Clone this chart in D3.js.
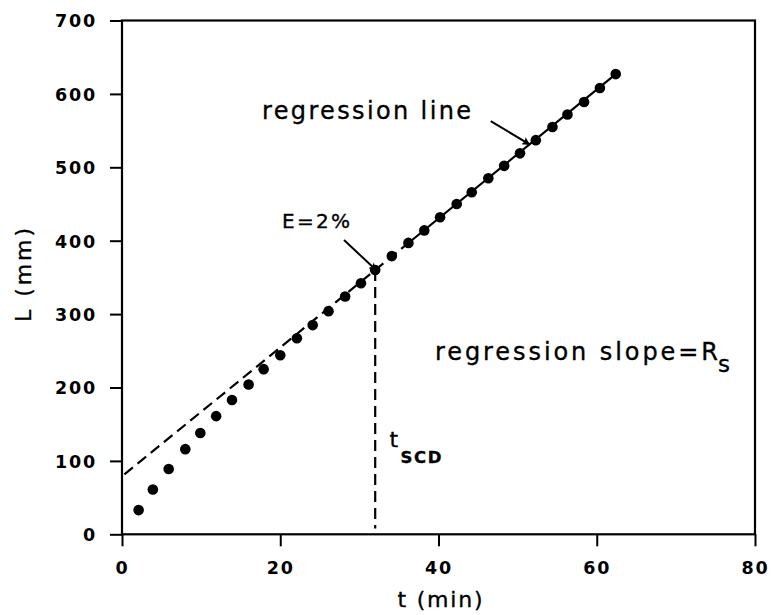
<!DOCTYPE html>
<html>
<head>
<meta charset="utf-8">
<script src="https://cdn.jsdelivr.net/npm/d3@7"></script>
<style>
  html, body { margin: 0; padding: 0; background: #fff; }
  svg { display: block; }
  .tick text { font-family: "DejaVu Sans", sans-serif; font-weight: bold; font-size: 17.5px; letter-spacing: 1.8px; fill: #000; }
  .lbl { font-family: "DejaVu Sans", sans-serif; fill: #000; stroke: #000; stroke-width: 0.35px; }
</style>
</head>
<body>
<svg id="chart" width="772" height="615"></svg>
<script>
// ---- data ----
const tValues = [2.1, 3.9, 5.9, 8.0, 9.9, 11.9, 13.9, 16.0, 17.9, 20.0, 22.1, 24.1, 26.1, 28.2, 30.2,
                 32.0, 34.1, 36.2, 38.2, 40.2, 42.3, 44.2, 46.3, 48.3, 50.3, 52.3, 54.4, 56.3, 58.4, 60.4, 62.4];
const lValues = [33, 61, 89, 116, 138, 161, 183, 204, 225, 244, 267, 285, 304, 324, 342,
                 360, 379, 397, 414, 432, 450, 466, 485, 502, 519, 537, 555, 572, 589, 608, 627];
const xTicks = [0, 20, 40, 60, 80];
const yTicks = [0, 100, 200, 300, 400, 500, 600, 700];
const regIntercept = 79;      // L at t = 0
const regSlope = 8.78;        // mm per min
const regStart = 0.3;         // dashed part begins
const regSolidFrom = 36.2;    // solid part begins
const regEnd = 62.4;          // solid part ends
const tSCD = 32.0;            // vertical dashed marker
const tSCDBottom = 8;         // L where vertical dash ends
const arrowE = [[28.06, 401], [32.2, 359]];
const arrowReg = [[46.6, 563], [51.6, 530.5]];

// ---- scales ----
const svg = d3.select("#chart");
const x = d3.scaleLinear().domain([0, 80]).range([122, 755]);
const y = d3.scaleLinear().domain([0, 700]).range([534.3, 20.5]);

// defs: arrowhead
svg.append("defs").append("marker")
  .attr("id", "ah").attr("viewBox", "0 0 10 10").attr("refX", 10).attr("refY", 5)
  .attr("markerWidth", 14).attr("markerHeight", 8).attr("markerUnits", "userSpaceOnUse")
  .attr("orient", "auto")
  .append("path").attr("d", "M0,0 L10,5 L0,10 L2,5 Z").attr("fill", "#000");

// frame
svg.append("rect")
  .attr("x", x(0)).attr("y", y(700))
  .attr("width", x(80) - x(0)).attr("height", y(0) - y(700))
  .attr("fill", "none").attr("stroke", "#000").attr("stroke-width", 2.2);

// axes
const xAxis = d3.axisBottom(x).tickValues(xTicks).tickSizeInner(12).tickSizeOuter(0).tickPadding(15)
  .tickFormat(d3.format("d"));
const yAxis = d3.axisLeft(y).tickValues(yTicks).tickSizeInner(12).tickSizeOuter(0).tickPadding(13)
  .tickFormat(d3.format("d"));
const gx = svg.append("g").attr("transform", `translate(0,${y(0)})`).call(xAxis);
const gy = svg.append("g").attr("transform", `translate(${x(0)},0)`).call(yAxis);
[gx, gy].forEach(g => {
  g.select(".domain").remove();
  g.selectAll(".tick line").attr("stroke", "#000").attr("stroke-width", 2);
  g.selectAll(".tick text").attr("font-size", null).attr("font-family", null);
});
gy.selectAll(".tick text").attr("dy", "0.36em");

// regression line: dashed part then solid part
const line = d3.line().x(d => x(d)).y(d => y(regIntercept + regSlope * d));
svg.append("path").datum([regStart, regSolidFrom]).attr("d", line)
  .attr("fill", "none").attr("stroke", "#000").attr("stroke-width", 2.2).attr("stroke-dasharray", "11,6");
svg.append("path").datum([regSolidFrom, regEnd]).attr("d", line)
  .attr("fill", "none").attr("stroke", "#000").attr("stroke-width", 2.2);

// vertical dashed line at tSCD
svg.append("line")
  .attr("x1", x(tSCD)).attr("x2", x(tSCD))
  .attr("y1", y(regIntercept + regSlope * tSCD)).attr("y2", y(tSCDBottom))
  .attr("stroke", "#000").attr("stroke-width", 2.2).attr("stroke-dasharray", "11,6");

// data points
svg.append("g").selectAll("circle").data(tValues.map((t, i) => [t, lValues[i]])).join("circle")
  .attr("cx", d => x(d[0])).attr("cy", d => y(d[1])).attr("r", 5.3).attr("fill", "#000");

// arrows
[arrowE, arrowReg].forEach(a => {
  svg.append("line")
    .attr("x1", x(a[0][0])).attr("y1", y(a[0][1]))
    .attr("x2", x(a[1][0])).attr("y2", y(a[1][1]))
    .attr("stroke", "#000").attr("stroke-width", 2).attr("marker-end", "url(#ah)");
});

// annotation labels
svg.append("text").attr("class", "lbl").attr("x", 262).attr("y", 118.5)
  .attr("font-size", 24).attr("textLength", 209).attr("lengthAdjust", "spacing")
  .text("regression line");
svg.append("text").attr("class", "lbl").attr("x", 282).attr("y", 228)
  .attr("font-size", 20).attr("textLength", 68).attr("lengthAdjust", "spacing")
  .text("E=2%");
svg.append("text").attr("class", "lbl").attr("x", 435).attr("y", 360)
  .attr("font-size", 24).attr("textLength", 283).attr("lengthAdjust", "spacing")
  .text("regression slope=R");
svg.append("text").attr("class", "lbl").attr("x", 718).attr("y", 371.5)
  .attr("font-size", 23)
  .text("s");
svg.append("text").attr("class", "lbl").attr("x", 389.5).attr("y", 447)
  .attr("font-size", 22)
  .text("t");
svg.append("text").attr("class", "lbl").attr("x", 400.5).attr("y", 463.3)
  .attr("font-size", 16.5).attr("font-weight", "bold").attr("textLength", 41).attr("lengthAdjust", "spacing")
  .text("SCD");

// axis titles
svg.append("text").attr("class", "lbl").attr("x", 440).attr("y", 607)
  .attr("font-size", 22).attr("text-anchor", "middle").attr("textLength", 85).attr("lengthAdjust", "spacing")
  .text("t (min)");
svg.append("text").attr("class", "lbl")
  .attr("transform", "translate(31,275) rotate(-90)")
  .attr("font-size", 22).attr("text-anchor", "middle").attr("textLength", 94).attr("lengthAdjust", "spacing")
  .text("L (mm)");
</script>
</body>
</html>
